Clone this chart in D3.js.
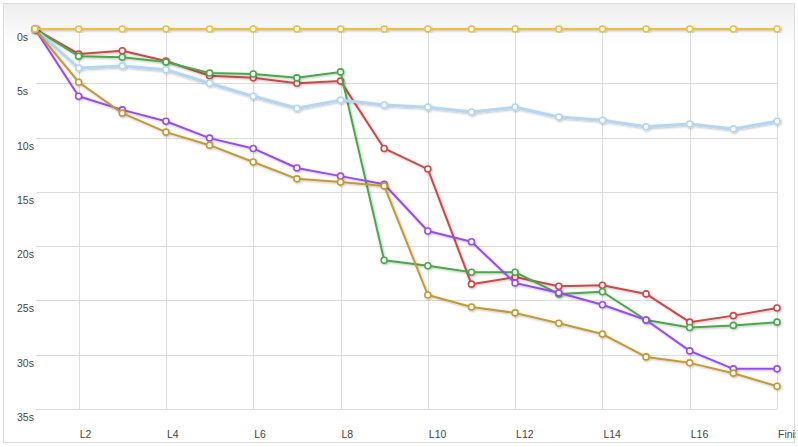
<!DOCTYPE html>
<html lang="en">
<head>
<meta charset="utf-8">
<script src="https://d3js.org/d3.v7.min.js"></script>
<style>
  body { margin: 0; background: #fff; }
  svg { display: block; font-family: "Liberation Sans", Arial, sans-serif; }
  .grid line { stroke: #dcdcdc; stroke-width: 1; }
  .lbl { font-size: 10.5px; fill: #444; }
</style>
</head>
<body>
<script>
// laps
const laps = ["L1","L2","L3","L4","L5","L6","L7","L8","L9","L10","L11","L12","L13","L14","L15","L16","L17","Finish"];
const tickLaps = ["L2","L4","L6","L8","L10","L12","L14","L16","Finish"];
const yTicks = [0, 5, 10, 15, 20, 25, 30, 35];

// gap to leader, seconds
const leader = [0,0,0,0,0,0,0,0,0,0,0,0,0,0,0,0,0,0];
const red    = [0,2.3,2.0,2.95,4.3,4.5,5.0,4.8,11.0,12.9,23.5,22.85,23.7,23.6,24.4,27.0,26.4,25.7];
const green  = [0,2.5,2.6,3.05,4.05,4.15,4.5,3.95,21.3,21.8,22.4,22.4,24.4,24.2,26.8,27.5,27.3,27.0];
const blue   = [0,3.6,3.4,3.75,5.0,6.2,7.3,6.55,7.0,7.2,7.65,7.2,8.1,8.4,9.0,8.75,9.2,8.5];
const purple = [0,6.2,7.45,8.5,10.05,11.0,12.8,13.55,14.3,18.6,19.6,23.4,24.3,25.4,26.8,29.65,31.3,31.3];
const gold   = [0,4.9,7.75,9.5,10.7,12.25,13.8,14.1,14.45,24.5,25.6,26.15,27.1,28.1,30.2,30.75,31.7,32.9];

const series = [
  {name: "red", values: red, color: "#cc4a4a", width: 2},
  {name: "green", values: green, color: "#4aa84a", width: 2},
  {name: "blue", values: blue, color: "#b4d6f2", width: 3},
  {name: "purple", values: purple, color: "#9a4cf0", width: 2},
  {name: "gold", values: gold, color: "#c49a34", width: 2},
  {name: "leader", values: leader, color: "#ecc040", width: 2}
];

const W = 798, H = 447;
const svg = d3.select("body").append("svg").attr("width", W).attr("height", H);
const defs = svg.append("defs");

const grad = defs.append("linearGradient").attr("id", "bg").attr("x1", 0).attr("y1", 0).attr("x2", 0).attr("y2", 1);
grad.append("stop").attr("offset", "0").attr("stop-color", "#eeeeee");
grad.append("stop").attr("offset", "0.1").attr("stop-color", "#ffffff");
grad.append("stop").attr("offset", "1").attr("stop-color", "#ffffff");

const shadow = defs.append("filter").attr("id", "shadow").attr("x", "-5%").attr("y", "-5%").attr("width", "110%").attr("height", "110%");
shadow.append("feDropShadow").attr("dx", 1).attr("dy", 1).attr("stdDeviation", 1)
  .attr("flood-color", "#000").attr("flood-opacity", 0.25);

svg.append("rect").attr("x", 3.5).attr("y", 3.5).attr("width", 791).attr("height", 439)
  .attr("fill", "url(#bg)").attr("stroke", "#dddddd");

const x = d3.scalePoint().domain(laps).range([35, 777]);
const y = d3.scaleLinear().domain([0, 35]).range([29, 409]);

const grid = svg.append("g").attr("class", "grid");
grid.selectAll(".h").data(yTicks).enter().append("line")
  .attr("x1", 36).attr("x2", 777)
  .attr("y1", d => Math.round(y(d)) + 0.5).attr("y2", d => Math.round(y(d)) + 0.5);
grid.selectAll(".v").data(tickLaps).enter().append("line")
  .attr("x1", d => Math.round(x(d)) + 0.5).attr("x2", d => Math.round(x(d)) + 0.5)
  .attr("y1", y(0)).attr("y2", y(35));

// labels clipped at the chart border, as in the original
defs.append("clipPath").attr("id", "clip").append("rect").attr("x", 0).attr("y", 0).attr("width", 796).attr("height", H);

svg.append("g").attr("clip-path", "url(#clip)").selectAll("text").data(yTicks).enter().append("text")
  .attr("class", "lbl").attr("x", 17).attr("y", d => y(d) + 12)
  .text(d => d + "s");

svg.append("g").attr("clip-path", "url(#clip)").selectAll("text").data(tickLaps).enter().append("text")
  .attr("class", "lbl").attr("x", d => x(d) + 1).attr("y", 438)
  .text(d => d);

const line = d3.line().x((d, i) => x(laps[i])).y(d => y(d));

series.forEach(s => {
  const g = svg.append("g").attr("filter", "url(#shadow)");
  g.append("path").datum(s.values).attr("d", line)
    .attr("fill", "none").attr("stroke", s.color).attr("stroke-width", s.width)
    .attr("stroke-linejoin", "round");
  g.selectAll("circle").data(s.values).enter().append("circle")
    .attr("cx", (d, i) => x(laps[i])).attr("cy", d => y(d)).attr("r", 3)
    .attr("fill", "#fff").attr("stroke", s.color).attr("stroke-width", 1.6);
});
</script>
</body>
</html>
